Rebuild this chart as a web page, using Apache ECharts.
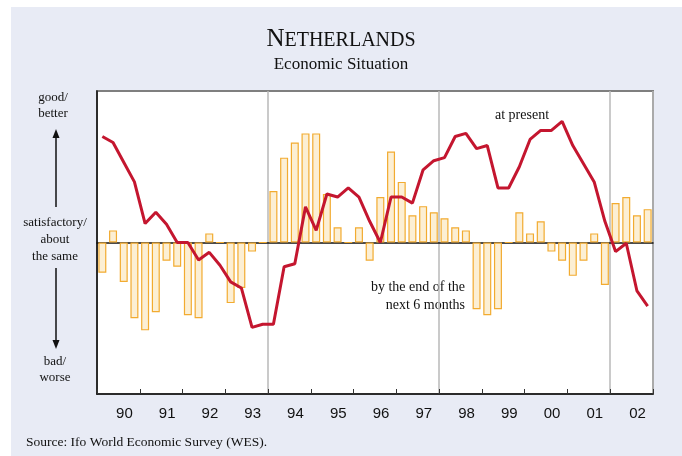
<!DOCTYPE html>
<html>
<head>
<meta charset="utf-8">
<script src="https://cdn.jsdelivr.net/npm/echarts@6/dist/echarts.min.js"></script>
<style>
  html, body { margin: 0; padding: 0; background: #ffffff; }
  #frame { position: absolute; left: 11px; top: 7px; width: 671px; height: 449px; background: #e8ebf5; }
  #chart { position: absolute; left: 0; top: 0; width: 682px; height: 456px; }
</style>
</head>
<body>
<div id="frame"></div>
<div id="chart"></div>
<script>
// quarters 1990Q1 .. 2002Q4
const years = ['90', '91', '92', '93', '94', '95', '96', '97', '98', '99', '00', '01', '02']
const quarters = []
years.forEach(y => { for (let q = 1; q <= 4; q++) quarters.push(y + 'Q' + q) })

// by the end of the next 6 months (bars)
const expectations = [
  -20, 8, -26, -50, -58, -46, -12, -16,
  -48, -50, 6, 0, -40, -30, -6, 0,
  34, 56, 66, 72, 72, 32, 10, 0,
  10, -12, 30, 60, 40, 18, 24, 20,
  16, 10, 8, -44, -48, -44, 0, 20,
  6, 14, -6, -12, -22, -12, 6, -28,
  26, 30, 18, 22
]

// at present (line)
const present = [
  70, 66, 53, 40, 12.5, 20, 12, 0,
  0, -11.5, -6.5, -15, -26, -30, -56, -54,
  -54, -16, -14, 23.5, 8, 32, 30, 36,
  30, 14, 0, 30, 30, 26, 48, 54,
  56, 70, 72, 62, 64, 36, 36, 50,
  68, 74, 74, 80, 64, 52, 40, 14,
  -6, -0.5, -32, -42
]

const serif = '"Liberation Serif", "DejaVu Serif", serif'
const sans = '"Liberation Sans", Arial, sans-serif'

const chart = echarts.init(document.getElementById('chart'), null, { renderer: 'canvas' })

chart.setOption({
  animation: false,
  backgroundColor: 'transparent',
  title: {
    left: 'center',
    top: 22,
    text: '{big|N}{small|ETHERLANDS}',
    subtext: 'Economic Situation',
    itemGap: 4,
    textStyle: {
      fontWeight: 'normal',
      rich: {
        big: { fontFamily: serif, fontSize: 25, fontWeight: 'normal', color: '#111' },
        small: { fontFamily: serif, fontSize: 20, fontWeight: 'normal', color: '#111', verticalAlign: 'bottom', padding: [0, 0, 1, 0] }
      }
    },
    subtextStyle: { fontFamily: serif, fontSize: 17, color: '#111' }
  },
  grid: {
    left: 97,
    right: 29,
    top: 91,
    bottom: 62,
    show: true,
    backgroundColor: '#ffffff',
    borderColor: '#7f7f7f',
    borderWidth: 2
  },
  xAxis: [
    {
      type: 'category',
      data: quarters,
      axisLine: { show: true, onZero: true, lineStyle: { color: '#111', width: 1.5 } },
      axisTick: { show: false },
      axisLabel: { show: false },
      splitLine: { show: false }
    },
    {
      type: 'category',
      data: years,
      position: 'bottom',
      axisLine: { show: true, onZero: false, lineStyle: { color: '#111', width: 1.5 } },
      axisTick: { show: true, inside: true, length: 5, interval: 0, lineStyle: { color: '#333' } },
      axisLabel: {
        interval: 0,
        margin: 12,
        padding: [0, 0, 0, 12],
        fontFamily: sans,
        fontSize: 15,
        color: '#111'
      },
      splitLine: {
        show: true,
        interval: (idx) => idx === 4 || idx === 8 || idx === 12,
        lineStyle: { color: '#b8b8b8', width: 1.5 }
      }
    }
  ],
  yAxis: {
    type: 'value',
    min: -100,
    max: 100,
    axisLine: { show: true, lineStyle: { color: '#111', width: 1.5 } },
    axisTick: { show: false },
    axisLabel: { show: false },
    splitLine: { show: false }
  },
  series: [
    {
      name: 'by the end of the next 6 months',
      type: 'bar',
      xAxisIndex: 0,
      data: expectations,
      barWidth: 8,
      itemStyle: { color: '#fcefd4', borderColor: '#f2ab30', borderWidth: 1.2 },
      z: 2
    },
    {
      name: 'at present',
      type: 'line',
      xAxisIndex: 0,
      data: present,
      showSymbol: false,
      lineStyle: { color: '#c4162f', width: 3 },
      z: 3
    }
  ],
  graphic: [
    { type: 'text', style: { text: 'good/\nbetter', fill: '#111', font: '13px ' + serif, align: 'center', verticalAlign: 'middle', lineHeight: 16 }, x: 53, y: 106 },
    { type: 'text', style: { text: 'satisfactory/\nabout\nthe same', fill: '#111', font: '13px ' + serif, align: 'center', verticalAlign: 'middle', lineHeight: 17 }, x: 55, y: 240 },
    { type: 'text', style: { text: 'bad/\nworse', fill: '#111', font: '13px ' + serif, align: 'center', verticalAlign: 'middle', lineHeight: 16 }, x: 55, y: 370 },
    { type: 'line', shape: { x1: 56, y1: 136, x2: 56, y2: 207 }, style: { stroke: '#111', lineWidth: 1.5 } },
    { type: 'polygon', shape: { points: [[56, 129], [52.5, 138], [59.5, 138]] }, style: { fill: '#111' } },
    { type: 'line', shape: { x1: 56, y1: 268, x2: 56, y2: 341 }, style: { stroke: '#111', lineWidth: 1.5 } },
    { type: 'polygon', shape: { points: [[56, 349], [52.5, 340], [59.5, 340]] }, style: { fill: '#111' } },
    { type: 'text', style: { text: 'at present', fill: '#111', font: '14px ' + serif, align: 'center', verticalAlign: 'middle' }, x: 522, y: 115 },
    { type: 'text', style: { text: 'by the end of the\nnext 6 months', fill: '#111', font: '14px ' + serif, align: 'right', verticalAlign: 'middle', lineHeight: 18 }, x: 465, y: 296 },
    { type: 'text', style: { text: 'Source: Ifo World Economic Survey (WES).', fill: '#111', font: '13.5px ' + serif, align: 'left', verticalAlign: 'middle' }, x: 26, y: 442 }
  ]
})

window.addEventListener('resize', () => chart.resize())
</script>
</body>
</html>
